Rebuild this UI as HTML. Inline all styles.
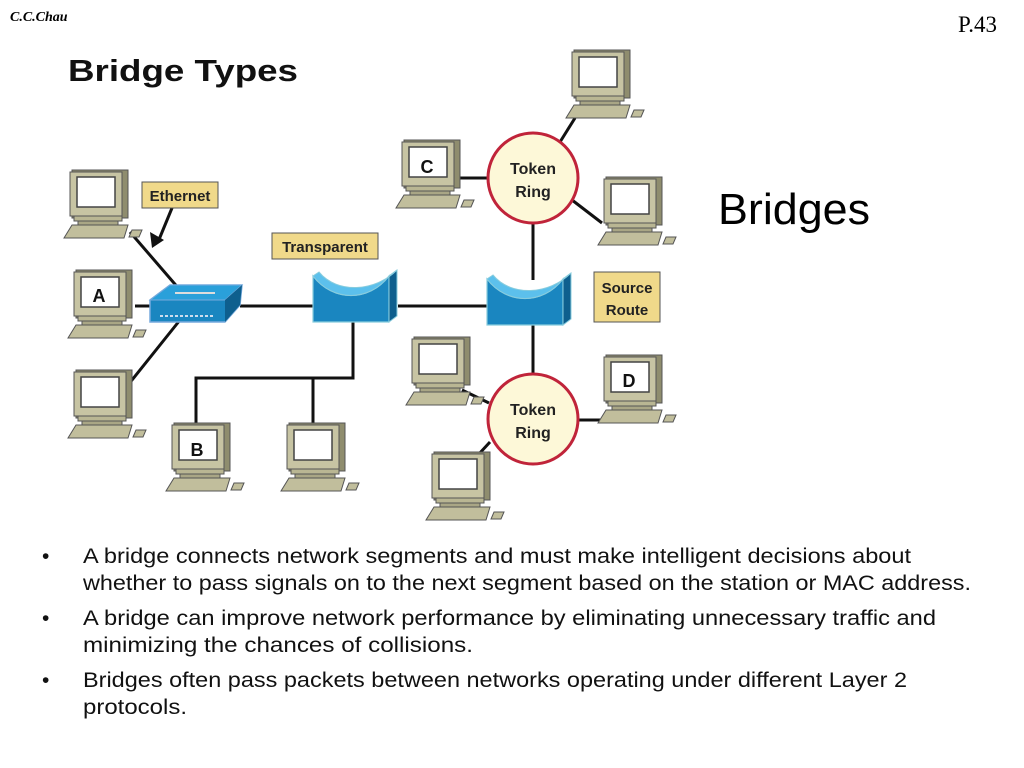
<!DOCTYPE html>
<html><head><meta charset="utf-8"><style>
html,body{margin:0;padding:0;background:#fff;}
svg{display:block;}
</style></head><body>
<svg width="1024" height="768" viewBox="0 0 1024 768" xmlns="http://www.w3.org/2000/svg">
<defs>
<g id="pc">
  <rect x="4" y="0" width="56" height="48" fill="#8f8d6e" stroke="#555" stroke-width="1"/>
  <rect x="2" y="2" width="52" height="44" fill="#c7c4a3" stroke="#555" stroke-width="1"/>
  <rect x="9" y="7" width="38" height="30" fill="#fff" stroke="#444" stroke-width="1.5"/>
  <rect x="6" y="46" width="48" height="5" fill="#b9b693" stroke="#555"/>
  <rect x="10" y="51" width="40" height="4" fill="#a9a685" stroke="#555"/>
  <polygon points="4,55 60,55 56,68 -4,68" fill="#c1be9c" stroke="#555"/>
  <polygon points="64,60 74,60 71,67 61,67" fill="#c1be9c" stroke="#555"/>
</g>
<g id="br">
  <path d="M0,6 C20,32 56,32 76,6 L76,52 L0,52 Z" fill="#1a86c0" stroke="#8cd" stroke-width="1.2"/>
  <path d="M76,6 L84,0 L84,46 L76,52 Z" fill="#0e5f8e" stroke="#8cd" stroke-width="1"/>
  <path d="M0,6 C20,32 56,32 76,6 L84,0 C62,22 24,24 6,2 Z" fill="#5cc0ec" stroke="#8cd" stroke-width="1"/>
</g>
</defs>
<text x="10" y="21" font-family="Liberation Serif, serif" font-style="italic" font-weight="bold" font-size="14">C.C.Chau</text>
<text x="958" y="32" font-family="Liberation Serif, serif" font-size="23">P.43</text>
<text x="68" y="81" font-family="Liberation Sans, sans-serif" font-weight="bold" font-size="31" textLength="230" lengthAdjust="spacingAndGlyphs" fill="#111">Bridge Types</text>
<text x="718" y="224" font-family="Liberation Sans, sans-serif" font-size="44" textLength="152" lengthAdjust="spacingAndGlyphs">Bridges</text>

<g stroke="#111" stroke-width="3" fill="none">
  <line x1="130" y1="232" x2="180" y2="290"/>
  <line x1="135" y1="306" x2="160" y2="306"/>
  <line x1="128" y1="385" x2="180" y2="320"/>
  <line x1="240" y1="306" x2="313" y2="306"/>
  <line x1="398" y1="306" x2="487" y2="306"/>
  <polyline points="353,322 353,378 196,378 196,425"/>
  <line x1="313" y1="378" x2="313" y2="425"/>
  <line x1="533" y1="222" x2="533" y2="280"/>
  <line x1="533" y1="322" x2="533" y2="374"/>
  <line x1="458" y1="178" x2="488" y2="178"/>
  <line x1="560" y1="142" x2="575" y2="118"/>
  <line x1="572" y1="200" x2="602" y2="223"/>
  <line x1="462" y1="390" x2="489" y2="403"/>
  <line x1="578" y1="420" x2="602" y2="420"/>
  <line x1="490" y1="442" x2="478" y2="455"/>
  <line x1="172" y1="208" x2="158" y2="242"/>
</g>
<polygon points="152,248 150,232 164,240" fill="#111"/>

<use href="#pc" x="68" y="170"/>
<use href="#pc" x="72" y="270"/>
<use href="#pc" x="72" y="370"/>
<use href="#pc" x="170" y="423"/>
<use href="#pc" x="285" y="423"/>
<use href="#pc" x="570" y="50"/>
<use href="#pc" x="400" y="140"/>
<use href="#pc" x="602" y="177"/>
<use href="#pc" x="410" y="337"/>
<use href="#pc" x="602" y="355"/>
<use href="#pc" x="430" y="452"/>
<g font-family="Liberation Sans, sans-serif" font-weight="bold" font-size="18" text-anchor="middle" fill="#111">
  <text x="99" y="302">A</text>
  <text x="197" y="456">B</text>
  <text x="427" y="173">C</text>
  <text x="629" y="387">D</text>
</g>

<!-- switch -->
<polygon points="150,300 170,285 242,285 240,305 225,322 150,322" fill="#1a86c0" stroke="#7ad" stroke-width="1.5"/>
<polygon points="150,300 170,285 242,285 225,300" fill="#2aa0da" stroke="#7ad"/>
<polygon points="225,300 242,285 240,305 225,322" fill="#0e5f8e"/>
<line x1="175" y1="293" x2="215" y2="293" stroke="#ddd" stroke-width="2"/>
<line x1="160" y1="316" x2="215" y2="316" stroke="#cde" stroke-width="2" stroke-dasharray="3,2"/>

<use href="#br" x="313" y="270"/>
<use href="#br" x="487" y="273"/>

<g stroke="#c0243a" stroke-width="3" fill="#fdf8d8">
  <circle cx="533" cy="178" r="45"/>
  <circle cx="533" cy="419" r="45"/>
</g>
<g font-family="Liberation Sans, sans-serif" font-weight="bold" font-size="16" text-anchor="middle" fill="#222">
  <text x="533" y="174">Token</text><text x="533" y="197">Ring</text>
  <text x="533" y="415">Token</text><text x="533" y="438">Ring</text>
</g>

<g fill="#f0d98a" stroke="#555" stroke-width="1">
  <rect x="142" y="182" width="76" height="26"/>
  <rect x="272" y="233" width="106" height="26"/>
  <rect x="594" y="272" width="66" height="50"/>
</g>
<g font-family="Liberation Sans, sans-serif" font-weight="bold" font-size="15" text-anchor="middle" fill="#222">
  <text x="180" y="201">Ethernet</text>
  <text x="325" y="252">Transparent</text>
  <text x="627" y="293">Source</text>
  <text x="627" y="315">Route</text>
</g>

<g font-family="Liberation Sans, sans-serif" font-size="21" fill="#111">
  <text x="42" y="563">•</text>
  <text x="42" y="625">•</text>
  <text x="42" y="687">•</text>
  <text x="83" y="563" textLength="828" lengthAdjust="spacingAndGlyphs">A bridge connects network segments and must make intelligent decisions about</text>
  <text x="83" y="590" textLength="888" lengthAdjust="spacingAndGlyphs">whether to pass signals on to the next segment based on the station or MAC address.</text>
  <text x="83" y="625" textLength="853" lengthAdjust="spacingAndGlyphs">A bridge can improve network performance by eliminating unnecessary traffic and</text>
  <text x="83" y="652" textLength="390" lengthAdjust="spacingAndGlyphs">minimizing the chances of collisions.</text>
  <text x="83" y="687" textLength="824" lengthAdjust="spacingAndGlyphs">Bridges often pass packets between networks operating under different Layer 2</text>
  <text x="83" y="714" textLength="104" lengthAdjust="spacingAndGlyphs">protocols.</text>
</g>
</svg>
</body></html>
